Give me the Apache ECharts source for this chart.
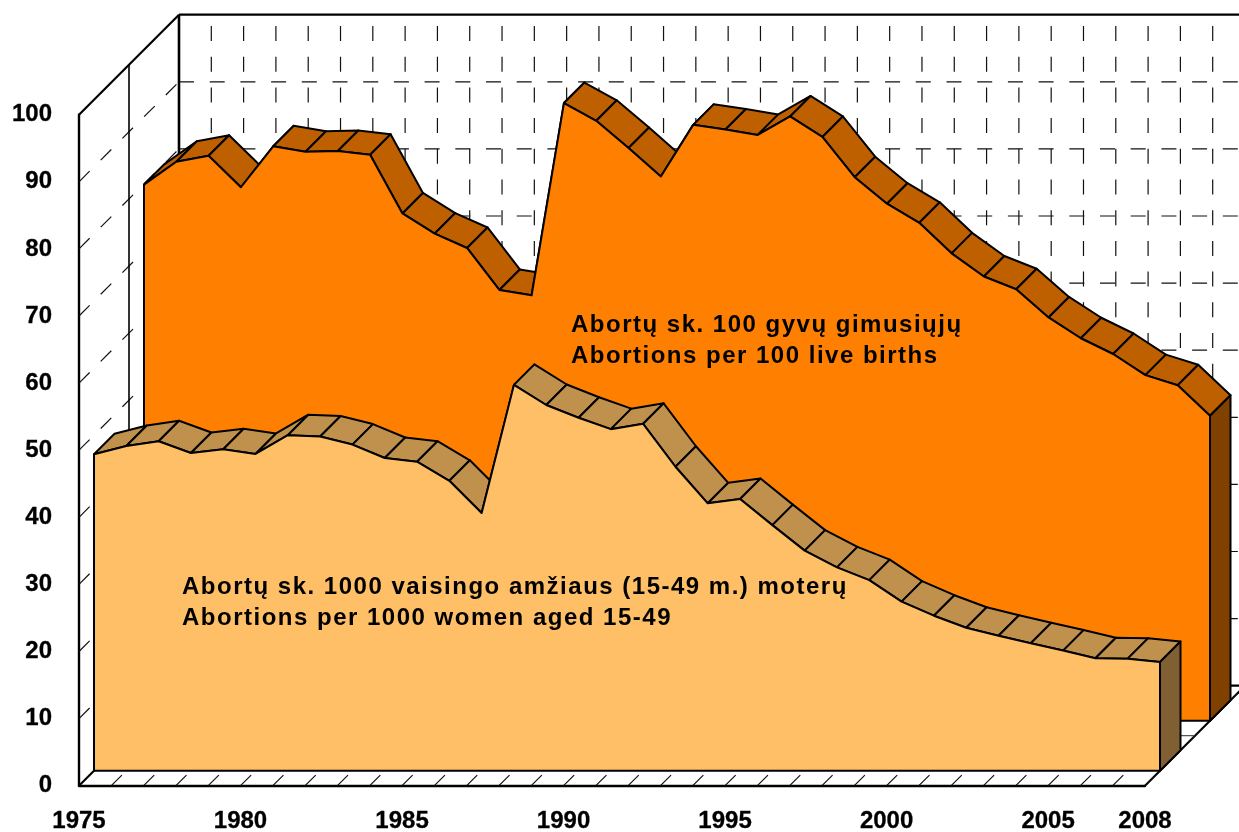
<!DOCTYPE html>
<html>
<head>
<meta charset="utf-8">
<style>html,body{margin:0;padding:0;background:#fff}#c{width:1239px;height:832px}</style>
<script src="https://cdn.jsdelivr.net/npm/echarts@6/dist/echarts.min.js"></script>
</head>
<body>
<div id="c"></div>
<script>
const years = [1975,1976,1977,1978,1979,1980,1981,1982,1983,1984,1985,1986,1987,1988,1989,1990,1991,1992,1993,1994,1995,1996,1997,1998,1999,2000,2001,2002,2003,2004,2005,2006,2007,2008];
const perLiveBirths = [79.9,83.3,84.2,79.5,85.6,84.8,84.9,84.35,75.6,72.6,70.45,64.2,63.4,92.05,89.4,85.35,81.1,88.8,88.1,87.3,90.05,87.0,81.0,77.05,74.2,69.65,66.2,64.3,60.1,57.0,54.65,51.5,50.0,45.45];
const perWomen = [47.15,48.4,49.1,47.35,47.9,47.2,50.0,49.8,48.6,46.6,46.05,43.2,38.4,57.5,54.5,52.6,50.9,51.7,45.3,39.85,40.5,36.6,32.8,30.3,28.4,25.2,23.1,21.3,20.1,19.0,17.9,16.75,16.7,16.2];
const yTicks = [0,10,20,30,40,50,60,70,80,90,100];
const shownYears = [1975,1980,1985,1990,1995,2000,2005,2008];
const labelRear = ['Abortų sk. 100 gyvų gimusiųjų','Abortions per 100 live births'];
const labelFront = ['Abortų sk. 1000 vaisingo amžiaus (15-49 m.) moterų','Abortions per 1000 women aged 15-49'];

const FONT = '"Liberation Sans", Arial, sans-serif';
const WALL = 100, MID = 50, RIDGE = 20.5;
const DASH = [15, 15.7];
const last = years.length - 1;

// The annotations are letter-spaced in the reference; ECharts has no option for that.
const spaced = new Set(labelRear.concat(labelFront));
const nativeFillText = CanvasRenderingContext2D.prototype.fillText;
CanvasRenderingContext2D.prototype.fillText = function (t, x, y, w) {
  if (spaced.has(t) && 'letterSpacing' in this) {
    const keep = this.letterSpacing;
    this.letterSpacing = '1.5px';
    nativeFillText.call(this, t, x, y);
    this.letterSpacing = keep;
  } else if (w === undefined) {
    nativeFillText.call(this, t, x, y);
  } else {
    nativeFillText.call(this, t, x, y, w);
  }
};

function line(a, b, style) {
  return {type:'line', shape:{x1:a[0],y1:a[1],x2:b[0],y2:b[1]}, style:Object.assign({stroke:'#000',fill:null,lineWidth:2.2}, style||{})};
}
const shift = (p, d) => [p[0] + d, p[1] - d];
const thin = {stroke:'#111', lineWidth:1.2, lineDash:DASH};

function renderWalls(params, api) {
  const i = params.dataIndex, kids = [];
  const base = api.coord([i, 0]);
  if (i > 0) {
    kids.push(line(base, shift(base, WALL), thin));
    const top = shift(api.coord([i, 100]), WALL);
    kids.push(line(shift(base, WALL), [top[0], top[1]], thin));
  }
  if (i === 0) {
    yTicks.forEach(v => {
      const a = api.coord([0, v]), b = api.coord([last, v]);
      if (v > 0) {
        kids.push(line(a, shift(a, WALL), thin));
        if (v < 100) kids.push(line(shift(a, WALL), shift(b, WALL), thin));
      }
    });
    const o = api.coord([0, 0]), t = api.coord([0, 100]), r = api.coord([last, 0]), tr = api.coord([last, 100]);
    kids.push(line(t, shift(t, WALL)));
    kids.push(line(shift(t, WALL), shift(tr, WALL)));
    kids.push(line(shift(t, WALL), shift(o, WALL), {lineWidth:2.6}));
    kids.push(line(shift(o, WALL), shift(r, WALL)));
    kids.push(line(o, shift(o, WALL)));
    kids.push(line(r, shift(r, WALL)));
    kids.push(line(shift(t, MID), shift(o, MID), {lineWidth:1.6}));
    kids.push(line(shift(o, MID), shift(r, MID), {lineWidth:1.2, stroke:'#555'}));
  }
  return {type:'group', children:kids};
}

function areaRenderer(values, offset, colors) {
  return function (params, api) {
    const i = params.dataIndex, kids = [];
    const pt = (k, v) => shift(api.coord([k, v]), offset);
    const edge = {stroke:'#000', lineWidth:2, lineJoin:'round'};
    if (i < last) {
      const a = pt(i, values[i]), b = pt(i + 1, values[i + 1]);
      kids.push({type:'polygon', z2:i, shape:{points:[a, shift(a, RIDGE), shift(b, RIDGE), b]},
        style:Object.assign({fill:colors.ridge}, edge)});
    } else {
      const top = pt(last, values[last]), bot = pt(last, 0);
      kids.push({type:'polygon', z2:100, shape:{points:[top, shift(top, RIDGE), shift(bot, RIDGE), bot]},
        style:Object.assign({fill:colors.side}, edge)});
      const pts = [pt(0, 0)];
      values.forEach((v, k) => pts.push(pt(k, v)));
      pts.push(bot);
      kids.push({type:'polygon', z2:101, shape:{points:pts},
        style:Object.assign({fill:colors.face}, edge)});
    }
    return {type:'group', children:kids};
  };
}

const textItem = (x, y, text) => ({type:'text', x, y, z:50, silent:true,
  style:{text, fill:'#000', font:'bold 24px ' + FONT, textVerticalAlign:'middle'}});

const axisText = {color:'#000', fontFamily:FONT, fontWeight:'bold', fontSize:24, textBorderColor:'#000', textBorderWidth:0.3};

const chart = echarts.init(document.getElementById('c'), null, {renderer:'canvas'});
chart.setOption({
  animation:false,
  backgroundColor:'#fff',
  grid:{left:79, right:94, top:114.7, bottom:46.3, containLabel:false, outerBoundsMode:'none'},
  xAxis:{type:'category', data:years, boundaryGap:false,
    axisLine:{show:true, onZero:false, lineStyle:{color:'#000', width:2.4}},
    axisTick:{show:false}, splitLine:{show:false},
    axisLabel:Object.assign({margin:24, hideOverlap:false, showMinLabel:true, showMaxLabel:true,
      interval:(i, v) => shownYears.includes(Number(v))}, axisText)},
  yAxis:{type:'value', min:0, max:100, interval:10,
    axisLine:{show:true, lineStyle:{color:'#000', width:2.4}},
    axisTick:{show:false}, splitLine:{show:false},
    axisLabel:Object.assign({margin:27, padding:[2,0,0,0]}, axisText)},
  graphic:[
    textItem(571, 325, labelRear[0]), textItem(571, 356, labelRear[1]),
    textItem(182, 587, labelFront[0]), textItem(182, 618, labelFront[1])
  ],
  series:[
    {type:'custom', z:1, silent:true, clip:false, renderItem:renderWalls,
      data:years.map((y, i) => [i, 0])},
    {type:'custom', name:labelRear[1], z:2, silent:true, clip:false,
      renderItem:areaRenderer(perLiveBirths, 65, {face:'#FF8000', ridge:'#BF6000', side:'#804000'}),
      data:perLiveBirths.map((v, i) => [i, v])},
    {type:'custom', name:labelFront[1], z:3, silent:true, clip:false,
      renderItem:areaRenderer(perWomen, 15, {face:'#FFBF66', ridge:'#BF914D', side:'#806033'}),
      data:perWomen.map((v, i) => [i, v])}
  ]
});
</script>
</body>
</html>
